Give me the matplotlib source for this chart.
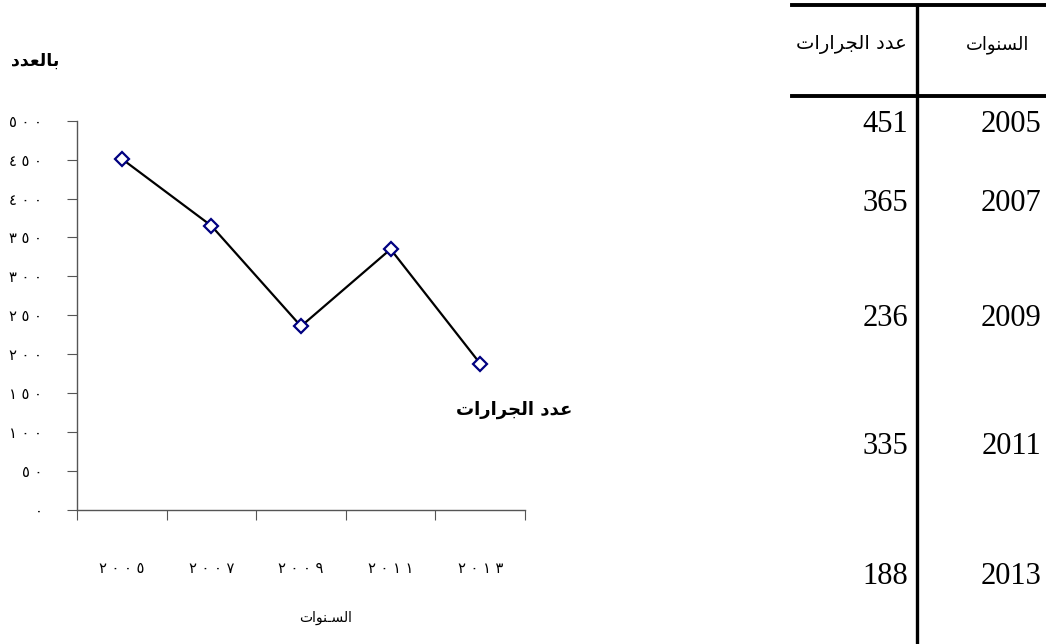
import matplotlib.pyplot as plt
from matplotlib.lines import Line2D
from matplotlib.ticker import FixedLocator

# Donnees
years = [2005, 2007, 2009, 2011, 2013]
tractors = [451, 365, 236, 335, 188]
yticks = [0, 50, 100, 150, 200, 250, 300, 350, 400, 450, 500]

title_y = 'بالعدد'
title_x = 'السـنوات'
series_name = 'عدد الجرارات'
head_years = 'السنوات'
head_count = 'عدد الجرارات'

# matplotlib ne fait ni shaping ni bidi : formes de presentation a la main
# (isole, final, initial, median)
FORMS = {
    'ا': ('\ufe8d', '\ufe8e', None, None),
    'ب': ('\ufe8f', '\ufe90', '\ufe91', '\ufe92'),
    'ت': ('\ufe95', '\ufe96', '\ufe97', '\ufe98'),
    'ج': ('\ufe9d', '\ufe9e', '\ufe9f', '\ufea0'),
    'د': ('\ufea9', '\ufeaa', None, None),
    'ر': ('\ufead', '\ufeae', None, None),
    'س': ('\ufeb1', '\ufeb2', '\ufeb3', '\ufeb4'),
    'ع': ('\ufec9', '\ufeca', '\ufecb', '\ufecc'),
    'ل': ('\ufedd', '\ufede', '\ufedf', '\ufee0'),
    'ن': ('\ufee5', '\ufee6', '\ufee7', '\ufee8'),
    'و': ('\ufeed', '\ufeee', None, None),
    'ـ': ('ـ', 'ـ', 'ـ', 'ـ'),
}


def shape(text):
    out = []
    for i, ch in enumerate(text):
        if ch not in FORMS:
            out.append(ch)
            continue
        prev = text[i - 1] if i > 0 else ''
        nxt = text[i + 1] if i + 1 < len(text) else ''
        join_prev = prev in FORMS and FORMS[prev][2] is not None
        join_next = nxt in FORMS and FORMS[ch][2] is not None
        iso, fin, ini, med = FORMS[ch]
        if join_prev and join_next:
            out.append(med)
        elif join_prev:
            out.append(fin)
        elif join_next:
            out.append(ini)
        else:
            out.append(iso)
    return ''.join(reversed(out))


def indic(n):
    # chiffres arabes-indiens, espaces entre les chiffres
    return ' '.join(str(n).translate(str.maketrans('0123456789', '٠١٢٣٤٥٦٧٨٩')))


W, H = 1046, 644
fig = plt.figure(figsize=(W / 100, H / 100), dpi=100)
plt.rcParams['font.family'] = ['DejaVu Sans']

ax = fig.add_axes([77 / W, 1 - 510 / H, 448 / W, 389.3 / H])
x = list(range(len(years)))
ax.plot(x, tractors, color='black', lw=1.6, marker='D', ms=7,
        mfc='white', mec='#000080', mew=1.6, zorder=3)

ax.set_xlim(-0.5, len(years) - 0.5)
ax.set_ylim(0, 500)
for s in ['top', 'right']:
    ax.spines[s].set_visible(False)
for s in ['left', 'bottom']:
    ax.spines[s].set_color('#555555')
    ax.spines[s].set_linewidth(1)

ax.set_yticks(yticks)
ax.set_yticklabels([indic(v) for v in yticks], fontsize=10.5)
ax.tick_params(axis='y', direction='out', length=7, color='#555555', pad=18)

ax.xaxis.set_major_locator(FixedLocator([i - 0.5 for i in range(len(years) + 1)]))
ax.xaxis.set_minor_locator(FixedLocator(x))
ax.set_xticklabels([''] * (len(years) + 1))
ax.set_xticklabels([indic(y) for y in years], minor=True, fontsize=10.5)
ax.tick_params(axis='x', which='major', direction='out', length=7, color='#555555')
ax.tick_params(axis='x', which='minor', length=0, pad=37)

ax.set_xlabel(shape(title_x), fontsize=10)
ax.xaxis.set_label_coords((326 - 77) / 448, -(618 - 510) / 389.3)
ax.xaxis.label.set_va('center')

ax.text((514 - 77) / 448, (510 - 410) / 389.3, shape(series_name), transform=ax.transAxes,
        ha='center', va='center', fontsize=13, fontweight='bold')
fig.text(35 / W, 1 - 61 / H, shape(title_y), ha='center', va='center',
         fontsize=12.5, fontweight='bold')

# Tableau a droite
for yy in [5, 96]:
    fig.add_artist(Line2D([792 / W, 1], [1 - yy / H, 1 - yy / H], color='black', lw=2.8))
fig.add_artist(Line2D([917 / W, 917 / W], [1 - 5 / H, 0], color='black', lw=2.4))

fig.text(851 / W, 1 - 45 / H, shape(head_count), ha='center', va='center', fontsize=14)
fig.text(998 / W, 1 - 45 / H, shape(head_years), ha='center', va='center', fontsize=13)

row_y = [125, 203, 318, 447, 577]
for yr, val, ry in zip(years, tractors, row_y):
    fig.text(908 / W, 1 - ry / H, str(val), ha='right', va='center',
             fontsize=22, family='Liberation Serif')
    fig.text(1041 / W, 1 - ry / H, str(yr), ha='right', va='center',
             fontsize=22, family='Liberation Serif')

plt.savefig('out.png', dpi=100)
